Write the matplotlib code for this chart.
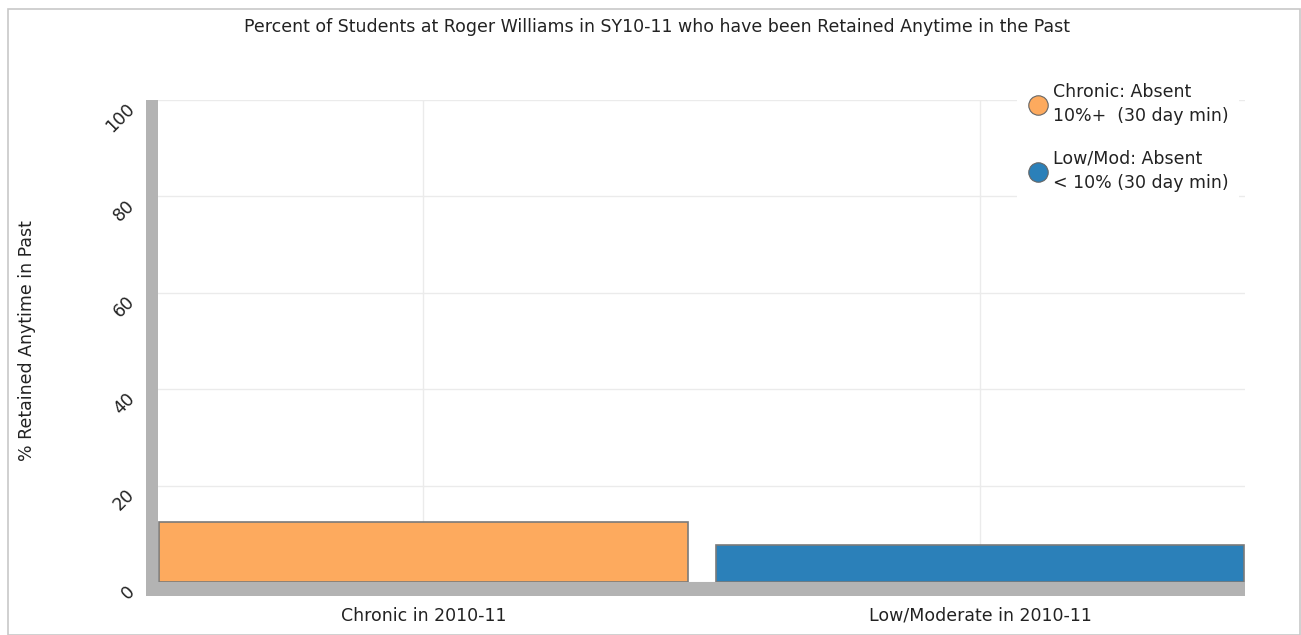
import matplotlib
matplotlib.use("Agg")
import matplotlib.pyplot as plt
from matplotlib.patches import Rectangle
from matplotlib.lines import Line2D

categories = ["Chronic in 2010-11", "Low/Moderate in 2010-11"]
values = [12.4, 7.6]
series_labels = ["Chronic: Absent\n10%+  (30 day min)", "Low/Mod: Absent\n< 10% (30 day min)"]
colors = ["#FDAA5E", "#2B80B9"]
yticks = [0, 20, 40, 60, 80, 100]

W, H = 1301, 635
fig = plt.figure(figsize=(W / 100, H / 100), dpi=100)

def px(x0, y0, x1, y1):
    return [x0 / W, 1 - y1 / H, (x1 - x0) / W, (y1 - y0) / H]

# outer border
fig.patches.append(Rectangle((8 / W, 0), (1300 - 8) / W, 1 - 9 / H, transform=fig.transFigure,
                             fill=False, edgecolor="#C8C8C8", linewidth=1.2))
# 3D wall and floor
fig.patches.append(Rectangle((146 / W, 1 - 596 / H), 12 / W, (596 - 100) / H, transform=fig.transFigure,
                             facecolor="#B3B3B3", edgecolor="none"))
fig.patches.append(Rectangle((146 / W, 1 - 596 / H), (1245 - 146) / W, 14 / H, transform=fig.transFigure,
                             facecolor="#B3B3B3", edgecolor="none"))

FS = 12.5
ax = fig.add_axes(px(158, 100, 1245, 582))
ax.set_xlim(-0.477, 1.476)
ax.set_ylim(0, 100)
x = list(range(len(categories)))
ax.bar(x, values, width=0.95, color=colors, edgecolor="#7A7A7A", linewidth=1.2, zorder=3)

ax.set_yticks(yticks)
ax.set_yticklabels([str(t) for t in yticks], rotation=45, fontsize=FS, color="#222222")
ax.set_xticks(x)
ax.set_xticklabels(categories, fontsize=FS, color="#222222")
ax.tick_params(axis="y", length=0, pad=14)
ax.tick_params(axis="x", length=0, pad=18)
for lab in ax.get_yticklabels():
    lab.set_va("top")
ax.grid(True, color="#EBEBEB", linewidth=1, zorder=0)
for s in ax.spines.values():
    s.set_visible(False)
ax.set_ylabel("% Retained Anytime in Past", fontsize=FS, color="#222222", labelpad=48)

fig.text(657 / W, 1 - 27 / H, "Percent of Students at Roger Williams in SY10-11 who have been Retained Anytime in the Past",
         ha="center", va="center", fontsize=FS, color="#222222")

handles = [Line2D([], [], marker="o", linestyle="none", markersize=14, markerfacecolor=c,
                  markeredgecolor="#666666", markeredgewidth=0.8) for c in colors]
leg = fig.legend(handles, series_labels, loc="upper left", bbox_to_anchor=(1008 / W, 1 - 64 / H),
                 frameon=True, fontsize=FS, labelspacing=1.4, handletextpad=0.3, borderpad=0.6,
                 handlelength=1.2)
leg.get_frame().set_facecolor("white")
leg.get_frame().set_edgecolor("none")
leg.get_frame().set_alpha(1)
for t in leg.get_texts():
    t.set_color("#222222")
    t.set_linespacing(1.45)

fig.savefig("out.png", dpi=100)
